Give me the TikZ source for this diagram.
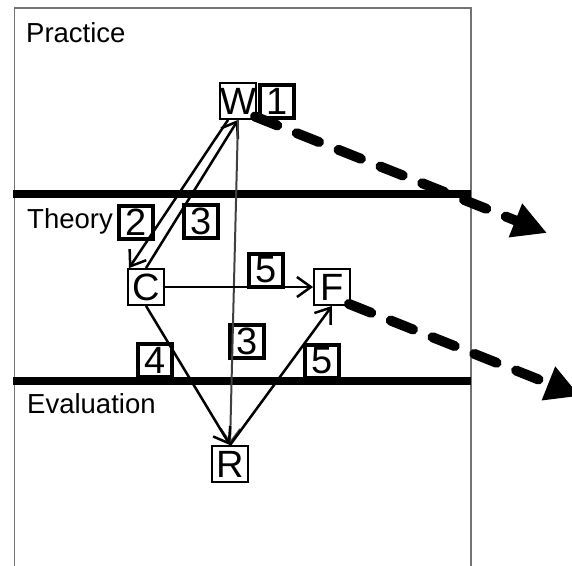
\documentclass[tikz,border=0pt]{standalone}
\usepackage{fontspec}
\setmainfont{Liberation Sans}
\usetikzlibrary{arrows.meta}
\begin{document}
\begin{tikzpicture}[x=1pt,y=-1pt,
  letter/.style={draw, line width=1.8pt, inner sep=0pt, minimum width=36pt, minimum height=36pt, font=\fontsize{38}{38}\selectfont},
  numbox/.style={draw, line width=4pt, inner sep=0pt, minimum width=34pt, minimum height=33pt, font=\fontsize{38}{38}\selectfont},
  lab/.style={inner sep=0pt, anchor=base west, font=\fontsize{27.5}{30}\selectfont},
  conn/.style={line width=2.5pt, -{Straight Barb[length=14pt,width=20pt,line width=2.5pt]}},
  dasharrow/.style={line width=10pt, line cap=round, dash pattern=on 24pt off 21pt, -{Triangle[length=34pt,width=34pt]}},
  band/.style={line width=8.5pt},
  frame/.style={draw=black!55, line width=1.3pt}
]
\useasboundingbox (0,0) rectangle (572,565);
% frame
\draw[frame] (14.5,570) -- (14.5,8) -- (471,8) -- (471,570);
% bands
\draw[band] (13,194) -- (471,194);
\draw[band] (13,381) -- (471,381);
% section labels
\node[lab] (tp) at (26,42) {Practice};
\node[lab] (tt) at (27,228) {Theory};
\node[lab] (te) at (27,413) {Evaluation};
% main nodes
\node[letter] (W) at (238,101) {W};
\node[letter] (C) at (146,287) {C};
\node[letter] (F) at (332,287) {F};
\node[letter] (R) at (230,464) {R};
% number boxes
\node[numbox] (one) at (277,101) {1};
\node[numbox] (two) at (136,222) {2};
\node[numbox] (threeA) at (201,221) {3};
\node[numbox] (fiveA) at (266,270) {5};
\node[numbox] (threeB) at (247,341) {3};
\node[numbox] (four) at (155,360) {4};
\node[numbox] (fiveB) at (322,361) {5};
% connectors
\draw[conn] ([xshift=-10pt]W.south) -- ([xshift=-17pt]C.north);
\draw[conn] (C.north) -- (W.south);
\draw[conn, draw=black!75, line width=2pt] (W.south) -- (R.north);
\draw[conn, line width=2.2pt] (C.east) -- (F.west);
\draw[conn] (C.south) -- (R.north);
\draw[conn] (R.north) -- (F.south);
% dashed arrows
\coordinate (e1) at (547,233);
\coordinate (e2) at (580,396);
\draw[dasharrow] ([xshift=-3pt,yshift=3pt]one.south west) -- (e1);
\draw[dasharrow] ([xshift=-2pt,yshift=2pt]F.south east) -- (e2);
\end{tikzpicture}
\end{document}
